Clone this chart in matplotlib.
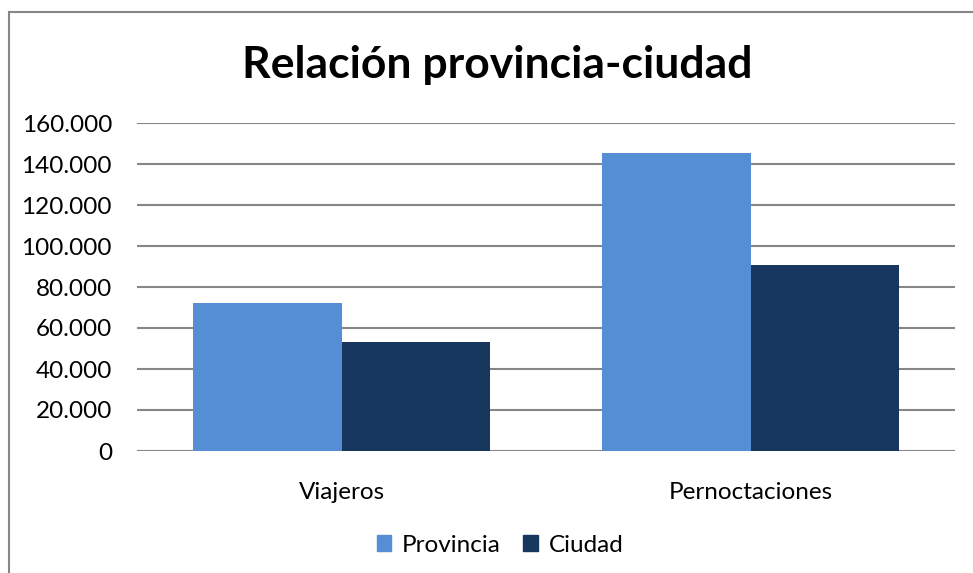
import numpy as np
import matplotlib
matplotlib.use("Agg")
import matplotlib.pyplot as plt
from matplotlib.patches import Rectangle, Patch
from matplotlib.ticker import FuncFormatter

# data
categories = ["Viajeros", "Pernoctaciones"]
provincia = [72400, 145300]
ciudad = [53000, 90600]
series_names = ["Provincia", "Ciudad"]
yticks = [0, 20000, 40000, 60000, 80000, 100000, 120000, 140000, 160000]

c_prov = "#558ed5"
c_ciud = "#17375e"
grid_c = "#868686"

plt.rcParams['font.family'] = ['Lato', 'DejaVu Sans']

fig = plt.figure(figsize=(9.73, 5.73), dpi=100)
W, H = 973.0, 573.0
ax = fig.add_axes([137/W, 1-451/H, (955-137)/W, (451-123)/H])

x = np.arange(len(categories))
bw = 0.364
ax.bar(x - bw/2, provincia, bw, color=c_prov, zorder=3)
ax.bar(x + bw/2, ciudad, bw, color=c_ciud, zorder=3)

ax.set_xlim(-0.5, 1.5)
ax.set_ylim(0, 160000)
ax.set_yticks(yticks)
ax.yaxis.set_major_formatter(FuncFormatter(lambda v, p: f"{int(v):,}".replace(",", ".")))
ax.set_xticks(x)
ax.set_xticklabels(categories)
ax.grid(axis='y', color=grid_c, linewidth=1.5, zorder=0)
ax.set_axisbelow(True)
for s in ax.spines.values():
    s.set_visible(False)
ax.tick_params(axis='y', length=0, pad=18, labelsize=17.5, labelcolor='#000000')
ax.tick_params(axis='x', length=0, pad=22, labelsize=17.5, labelcolor='#000000')

fig.text(497/W, 1-65/H, "Relación provincia-ciudad", ha='center', va='center',
         fontsize=32, fontweight='bold')

handles = [Patch(color=c_prov), Patch(color=c_ciud)]
fig.legend(handles, series_names, loc='center', bbox_to_anchor=(500/W, 1-545/H),
           ncol=2, frameon=False, fontsize=17.5, handlelength=0.6, handleheight=0.6,
           handletextpad=0.45, columnspacing=0.9, borderpad=0)

fig.patches.append(Rectangle((9/W, -0.1), 2, 1.1-12/H, transform=fig.transFigure,
                             fill=False, edgecolor=grid_c, linewidth=1.5))

fig.savefig("out.png", dpi=100)
